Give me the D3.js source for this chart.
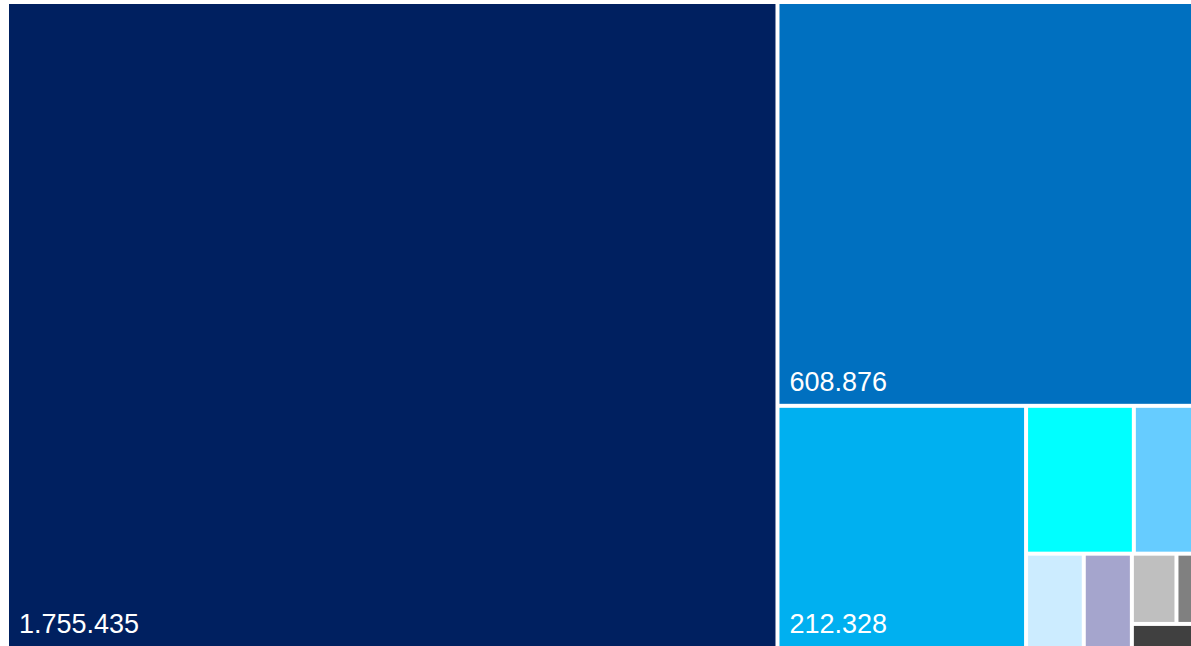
<!DOCTYPE html>
<html>
<head>
<meta charset="utf-8">
<script src="https://cdn.jsdelivr.net/npm/d3@7"></script>
<style>
  html, body { margin: 0; padding: 0; background: #ffffff; overflow: hidden; }
  svg { display: block; }
</style>
</head>
<body>
<svg id="chart" width="1191" height="646"></svg>
<script>
// Leaf values (largest first)
const values = [1755435, 608876, 212328, 56200, 37100, 19200, 16000, 11050, 7070, 6210];
// Visible labels (only the three largest carry a label)
const labels = ["1.755.435", "608.876", "212.328", "", "", "", "", "", "", ""];
// Fill colours
const colors = ["#002060", "#0070C0", "#00B0F0", "#00FFFF", "#66CCFF",
                "#CCECFF", "#A5A5CD", "#BFBFBF", "#808080", "#404040"];
// Nesting of the layout (group path of each leaf)
const paths = ["A", "B/A", "B/B/A", "B/B/B/A/A", "B/B/B/A/B",
               "B/B/B/B/A", "B/B/B/B/B", "B/B/B/B/C/A/A", "B/B/B/B/C/A/B", "B/B/B/B/C/B"];

// Build rows for stratify: every intermediate group plus leaves
const rows = new Map();
rows.set("root", { id: "root", parent: null });
paths.forEach((p, i) => {
  const parts = p.split("/");
  let parent = "root";
  for (let k = 0; k < parts.length; k++) {
    const id = "root/" + parts.slice(0, k + 1).join("/");
    if (!rows.has(id)) rows.set(id, { id, parent });
    parent = id;
  }
  const leaf = rows.get("root/" + p);
  leaf.value = values[i];
  leaf.label = labels[i];
  leaf.color = colors[i];
});

const root = d3.stratify()
  .id(d => d.id)
  .parentId(d => d.parent)(Array.from(rows.values()))
  .sum(d => d.value || 0);

d3.treemap()
  .tile(d3.treemapSliceDice)
  .size([1194, 642])
  .paddingInner(4)
  .round(false)(root);

const svg = d3.select("#chart");
const plot = svg.append("g").attr("transform", "translate(9,4)");
const leaves = root.leaves();

const g = plot.selectAll("g.cell")
  .data(leaves)
  .join("g")
  .attr("class", "cell");

g.append("rect")
  .attr("x", d => d.x0)
  .attr("y", d => d.y0)
  .attr("width", d => Math.max(0, d.x1 - d.x0))
  .attr("height", d => Math.max(0, d.y1 - d.y0))
  .attr("fill", d => d.data.color);

g.filter(d => d.data.label)
  .append("text")
  .attr("x", d => d.x0 + 10)
  .attr("y", d => d.y1 - 13)
  .attr("fill", "#ffffff")
  .attr("font-family", "'Liberation Sans', Arial, sans-serif")
  .attr("font-size", "27px")
  .text(d => d.data.label);
</script>
</body>
</html>
